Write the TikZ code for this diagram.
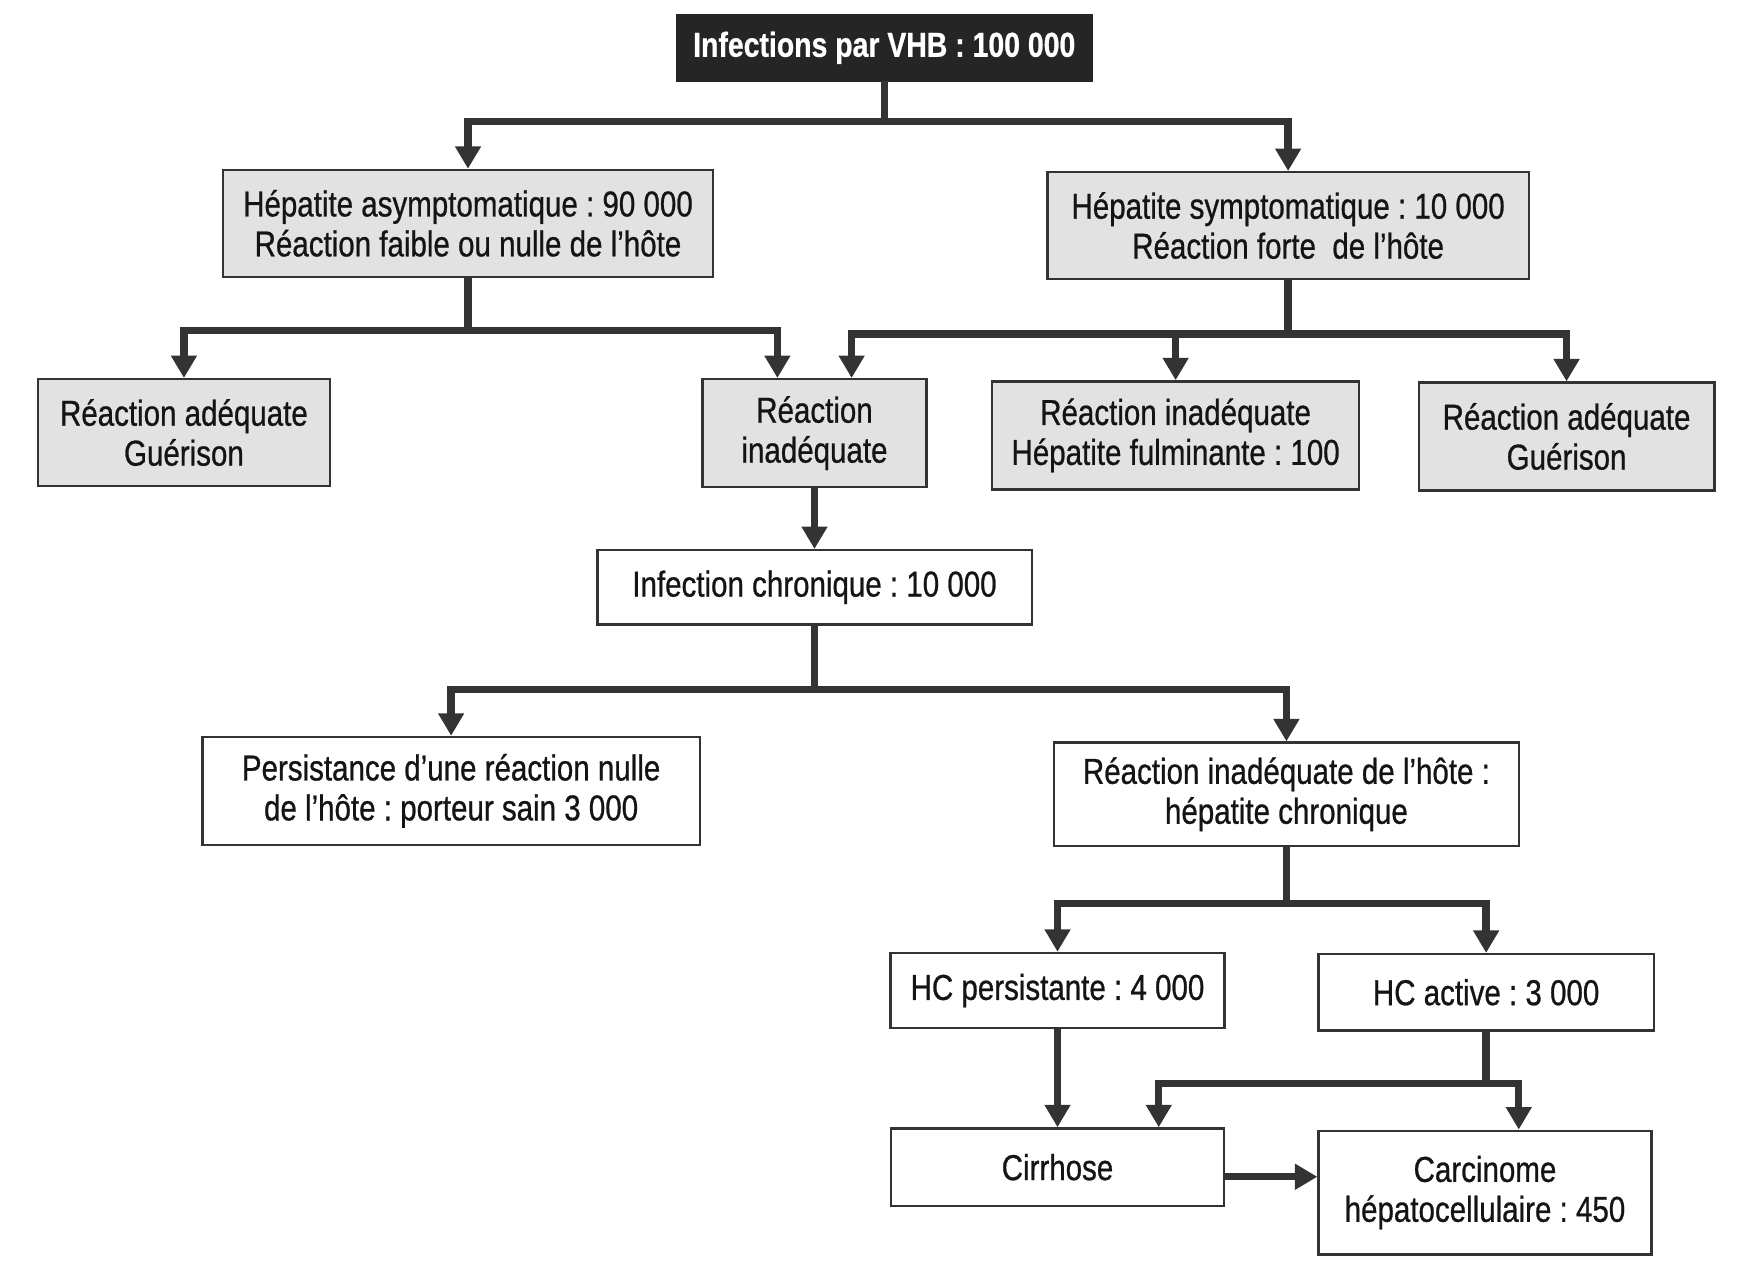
\documentclass[tikz,border=0pt]{standalone}
\usepackage{fontspec}
\setmainfont{Liberation Sans}[FakeStretch=0.82,FakeBold=0.7]
\usetikzlibrary{arrows.meta}
\definecolor{boxgray}{HTML}{E2E2E2}
\definecolor{ink}{HTML}{333333}
\definecolor{topfill}{HTML}{252525}
\frenchspacing
\begin{document}
\frenchspacing
\begin{tikzpicture}[x=1pt,y=-1pt,
  every node/.style={font=\fontsize{32pt}{35.5pt}\selectfont, text=black!92, align=center, inner sep=0pt, rectangle},
  gbox/.style={draw=ink, line width=2pt, fill=boxgray},
  wbox/.style={draw=ink, line width=2pt, fill=white},
  topbox/.style={fill=topfill, draw=topfill, text=white, font=\bfseries\fontsize{30.8pt}{34pt}\selectfont},
  conn/.style={draw=ink, line width=6.5pt, line join=miter},
  arr/.style={conn, -{Triangle[width=22pt,length=20pt]}},
]
\useasboundingbox (0,0) rectangle (1568,1138);
\fill[white] (0,0) rectangle (1568,1138);

\node[topbox, minimum width=370pt, minimum height=59pt] (top) at (786,42.5) {Infections par VHB : 100 000};

\node[gbox, minimum width=436pt, minimum height=95pt] (A) at (416,198.5) {Hépatite asymptomatique : 90 000\\Réaction faible ou nulle de l’hôte};
\node[gbox, minimum width=428pt, minimum height=95pt] (B) at (1145,200.5) {Hépatite symptomatique : 10 000\\Réaction forte~ de l’hôte};

\node[gbox, minimum width=259pt, minimum height=95pt] (C) at (163.5,384.5) {Réaction adéquate\\Guérison};
\node[gbox, minimum width=199pt, minimum height=96pt] (D) at (724,385) {Réaction\\inadéquate};
\node[gbox, minimum width=326pt, minimum height=96pt] (E) at (1045,387) {Réaction inadéquate\\Hépatite fulminante : 100};
\node[gbox, minimum width=263pt, minimum height=96pt] (F) at (1392.5,388) {Réaction adéquate\\Guérison};

\node[wbox, minimum width=386pt, minimum height=66pt] (G) at (724,522) {Infection chronique : 10 000};

\node[wbox, minimum width=442pt, minimum height=96pt] (H) at (401,703) {Persistance d’une réaction nulle\\de l’hôte : porteur sain 3 000};
\node[wbox, minimum width=413pt, minimum height=92pt] (I) at (1143.5,706) {Réaction inadéquate de l’hôte :\\hépatite chronique};

\node[wbox, minimum width=297pt, minimum height=67pt] (J) at (940,880.5) {HC persistante : 4 000};
\node[wbox, minimum width=298pt, minimum height=68pt] (K) at (1321,882) {HC active : 3 000};

\node[wbox, minimum width=296pt, minimum height=69pt] (L) at (940,1037.5) {Cirrhose};
\node[wbox, minimum width=296pt, minimum height=110pt] (M) at (1320,1060) {Carcinome\\hépatocellulaire : 450};

% top tree
\draw[conn] (top.south) -- ++(0,36) coordinate (jt);
\draw[arr] (jt) -| (A.north);
\draw[arr] (jt) -| (B.north);

% A tree
\draw[conn] (A.south) -- ++(0,47) coordinate (ja);
\draw[arr] (ja) -| (C.north);
\draw[arr] (ja) -| ([xshift=-33pt]D.north);

% B tree
\draw[conn] (B.south) -- ++(0,48) coordinate (jb);
\draw[arr] (jb) -| ([xshift=33pt]D.north);
\draw[arr] (jb) -| (E.north);
\draw[arr] (jb) -| (F.north);

% D to G
\draw[arr] (D.south) -- (G.north);

% G tree
\draw[conn] (G.south) -- ++(0,57) coordinate (jg);
\draw[arr] (jg) -| (H.north);
\draw[arr] (jg) -| (I.north);

% I tree
\draw[conn] (I.south) -- ++(0,50) coordinate (ji);
\draw[arr] (ji) -| (J.north);
\draw[arr] (ji) -| (K.north);

% J to L
\draw[arr] (J.south) -- (L.north);

% K tree
\draw[conn] (K.south) -- ++(0,46) coordinate (jk);
\draw[arr] (jk) -| ([xshift=90pt]L.north);
\draw[arr] (jk) -| ([xshift=30pt]M.north);

% L to M
\draw[arr] ([yshift=-8.5pt]L.east) -- ([yshift=14pt]M.west);
\end{tikzpicture}
\end{document}
